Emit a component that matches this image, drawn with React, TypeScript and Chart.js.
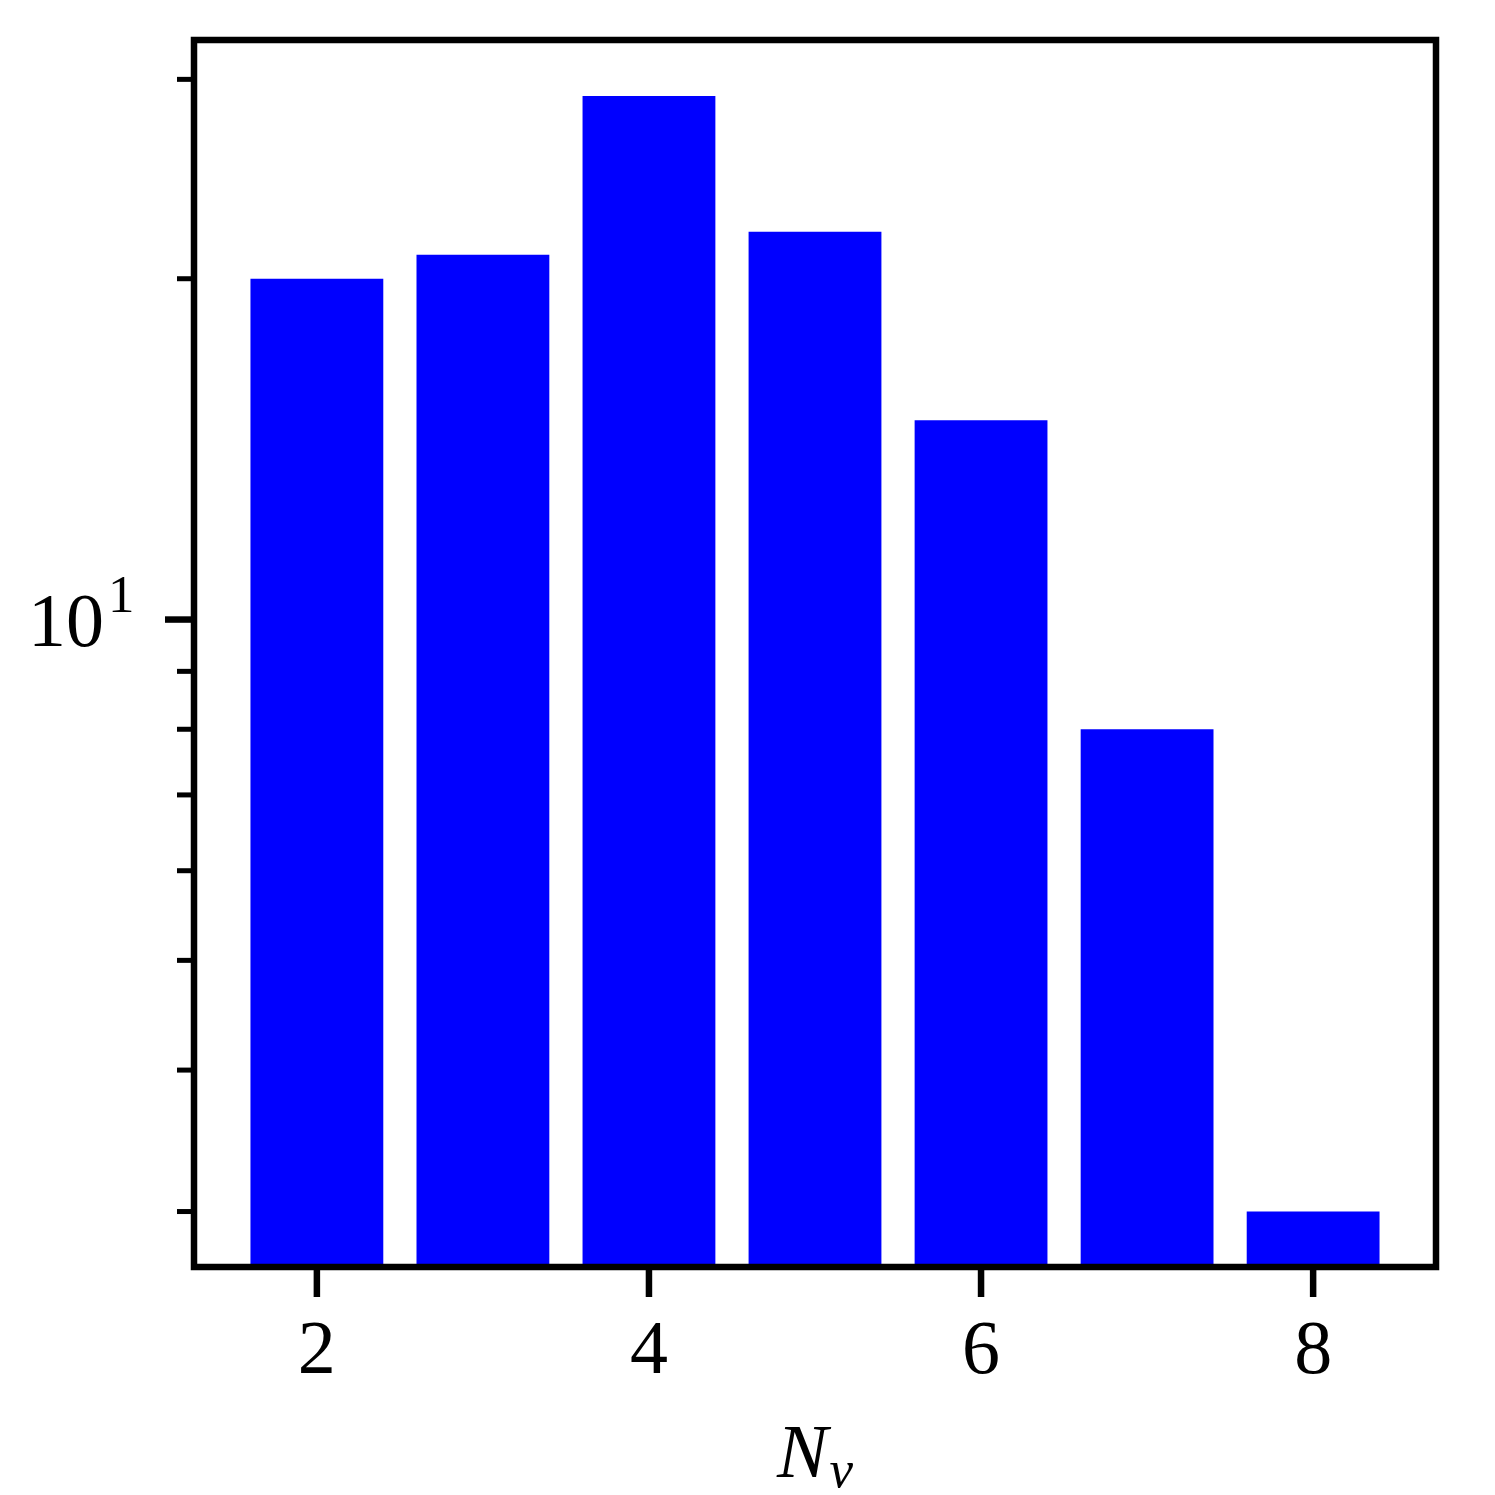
import React, { useEffect, useRef } from "react";
import { Chart, registerables } from "chart.js";

Chart.register(...registerables);

// ---- data ----
const categories: number[] = [2, 3, 4, 5, 6, 7, 8];
const counts: number[] = [20, 21, 29, 22, 15, 8, 3];
const xTickValues: number[] = [2, 4, 6, 8];
const yMajorTicks: number[] = [10];
const yMajorBase: string[] = ["10"];
const yMajorExp: string[] = ["1"];
const yMinorTicks: number[] = [3, 4, 5, 6, 7, 8, 9, 20, 30];
const xTitleMain = "N";
const xTitleSub = "v";

const FONT = '"Liberation Serif", "DejaVu Serif", serif';

const framePlugin = {
  id: "frameTicks",
  afterDatasetsDraw(chart: any) {
    const { ctx, chartArea: a, scales } = chart;
    const xs = scales.x;
    const ys = scales.y;
    ctx.save();
    ctx.strokeStyle = "#000";
    ctx.lineCap = "butt";
    // minor y ticks
    ctx.lineWidth = 5;
    for (const v of yMinorTicks) {
      const py = ys.getPixelForValue(v);
      ctx.beginPath();
      ctx.moveTo(a.left, py);
      ctx.lineTo(a.left - 17, py);
      ctx.stroke();
    }
    // major y ticks
    ctx.lineWidth = 6.5;
    for (const v of yMajorTicks) {
      const py = ys.getPixelForValue(v);
      ctx.beginPath();
      ctx.moveTo(a.left, py);
      ctx.lineTo(a.left - 29, py);
      ctx.stroke();
    }
    // x ticks
    for (const v of xTickValues) {
      const px = xs.getPixelForValue(v);
      ctx.beginPath();
      ctx.moveTo(px, a.bottom);
      ctx.lineTo(px, a.bottom + 30);
      ctx.stroke();
    }
    // frame
    ctx.lineJoin = "miter";
    ctx.lineWidth = 6.5;
    ctx.strokeRect(a.left, a.top, a.right - a.left, a.bottom - a.top);

    // y major labels (10^1)
    ctx.fillStyle = "#000";
    yMajorTicks.forEach((v, i) => {
      const py = ys.getPixelForValue(v);
      ctx.font = `76px ${FONT}`;
      ctx.textAlign = "right";
      ctx.textBaseline = "alphabetic";
      ctx.fillText(yMajorBase[i], a.left - 90, py + 26);
      ctx.font = `53px ${FONT}`;
      ctx.textAlign = "left";
      ctx.fillText(yMajorExp[i], a.left - 86, py - 8);
    });

    // x title N_v
    ctx.textAlign = "left";
    ctx.textBaseline = "alphabetic";
    ctx.font = `italic 76px ${FONT}`;
    const wMain = ctx.measureText(xTitleMain).width;
    ctx.font = `italic 53px ${FONT}`;
    const wSub = ctx.measureText(xTitleSub).width;
    const cx = (a.left + a.right) / 2;
    const startX = cx - (wMain + wSub + 2) / 2;
    ctx.font = `italic 76px ${FONT}`;
    ctx.fillText(xTitleMain, startX, a.bottom + 210);
    ctx.font = `italic 53px ${FONT}`;
    ctx.fillText(xTitleSub, startX + wMain + 2, a.bottom + 220);
    ctx.restore();
  },
};

export default function App() {
  const ref = useRef<HTMLCanvasElement | null>(null);
  useEffect(() => {
    if (!ref.current) return;
    const chart = new Chart(ref.current, {
      type: "bar",
      data: {
        datasets: [
          {
            data: categories.map((c, i) => ({ x: c, y: counts[i] })),
            backgroundColor: "#0000ff",
            borderWidth: 0,
            categoryPercentage: 0.8,
            barPercentage: 1.0,
          },
        ],
      },
      options: {
        animation: false,
        responsive: false,
        devicePixelRatio: 1,
        layout: { padding: { left: 0, top: 40, right: 59, bottom: 0 } },
        plugins: { legend: { display: false }, tooltip: { enabled: false } },
        scales: {
          x: {
            type: "linear",
            min: 1.26,
            max: 8.74,
            offset: false,
            grid: { display: false, drawTicks: false },
            border: { display: false },
            afterBuildTicks: (axis: any) => {
              axis.ticks = xTickValues.map((v) => ({ value: v }));
            },
            afterFit: (s: any) => {
              s.height = 228;
            },
            ticks: {
              autoSkip: false,
              maxRotation: 0,
              padding: 40,
              color: "#000",
              font: { family: FONT, size: 76 },
              callback: (v: any) => String(v),
            },
          },
          y: {
            type: "logarithmic",
            min: 2.68,
            max: 32.5,
            grid: { display: false, drawTicks: false },
            border: { display: false },
            ticks: { display: false },
            afterFit: (s: any) => {
              s.width = 194;
            },
          },
        },
      },
      plugins: [framePlugin],
    } as any);
    return () => chart.destroy();
  }, []);
  return (
    <div style={{ position: "fixed", left: 0, top: 0, width: 1495, height: 1495, background: "#fff" }}>
      <canvas ref={ref} width={1495} height={1495} style={{ width: 1495, height: 1495, display: "block" }} />
    </div>
  );
}
